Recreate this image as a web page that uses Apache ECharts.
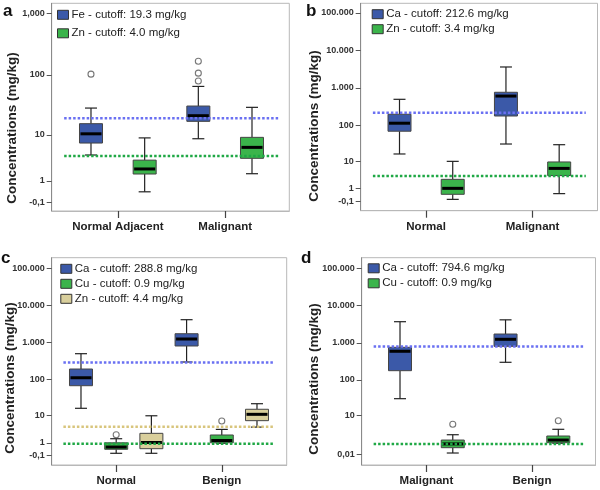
<!DOCTYPE html>
<html><head><meta charset="utf-8">
<script src="https://cdn.jsdelivr.net/npm/echarts@6/dist/echarts.min.js"></script>
<style>html,body{margin:0;padding:0;background:#fff}#c{width:600px;height:490px}</style>
</head><body><div id="c"></div>
<script>
// ---------- DATA (box stats: [min, Q1, median, Q3, max] in mg/kg) ----------
// Panel a
const aGroups = ['Normal Adjacent', 'Malignant'];
const aNames = ['Fe - cutoff: 19.3 mg/kg', 'Zn - cutoff: 4.0 mg/kg'];
const aCutoffs = [19.3, 4.0];
const aFe = [[4.2, 7.1, 10.4, 15.6, 28.6], [8.5, 17.1, 21.3, 30.9, 65]];
const aZn = [[0.33, 1.57, 2.1, 3.3, 8.8], [1.6, 3.6, 5.9, 9.0, 29.4]];
const aFeOut = [[103], [167, 107, 79.6]];
const aZnOut = [[], []];
const aTicks = [1000, 100, 10, 1, -0.1];
const aTickLabels = ['1,000', '100', '10', '1', '-0,1'];

// Panel b
const bGroups = ['Normal', 'Malignant'];
const bNames = ['Ca - cutoff: 212.6 mg/kg', 'Zn - cutoff: 3.4 mg/kg'];
const bCutoffs = [212.6, 3.4];
const bCa = [[16, 68, 112, 195, 491], [30.4, 175, 600, 758, 3600]];
const bZn = [[0.04, 0.42, 1.05, 2.57, 9.8], [0.48, 3.5, 6.0, 9.4, 29.1]];
const bCaOut = [[], []];
const bZnOut = [[], []];
const bTicks = [100000, 10000, 1000, 100, 10, 1, -0.1];
const bTickLabels = ['100.000', '10.000', '1.000', '100', '10', '1', '-0,1'];

// Panel c
const cGroups = ['Normal', 'Benign'];
const cNames = ['Ca - cutoff: 288.8 mg/kg', 'Cu - cutoff: 0.9 mg/kg', 'Zn - cutoff: 4.4 mg/kg'];
const cCutoffs = [288.8, 0.9, 4.4];
const cCa = [[16, 68, 112, 193, 501], [299, 808, 1246, 1730, 4130]];
const cCu = [[0.045, 0.34, 0.54, 1.0, 1.58], [0.95, 1.01, 1.31, 2.25, 3.6]];
const cZn = [[0.045, 0.39, 1.04, 2.6, 9.7], [4.3, 6.9, 10.7, 15, 21.6]];
const cCaOut = [[], []];
const cCuOut = [[2.31], [6.74]];
const cZnOut = [[], []];
const cTicks = [100000, 10000, 1000, 100, 10, 1, -0.1];
const cTickLabels = ['100.000', '10.000', '1.000', '100', '10', '1', '-0,1'];

// Panel d
const dGroups = ['Malignant', 'Benign'];
const dNames = ['Ca - cutoff: 794.6 mg/kg', 'Cu - cutoff: 0.9 mg/kg'];
const dCutoffs = [794.6, 0.9];
const dCa = [[30.5, 177, 590, 754, 3680], [298, 803, 1238, 1717, 4130]];
const dCu = [[0.094, 0.52, 0.92, 1.44, 2.39], [1.0, 1.07, 1.44, 2.13, 3.74]];
const dCaOut = [[], []];
const dCuOut = [[5.46], [7.07]];
const dTicks = [100000, 10000, 1000, 100, 10, 0.01];
const dTickLabels = ['100.000', '10.000', '1.000', '100', '10', '0,01'];

// ---------- STYLE ----------
const FILL = { Fe: '#3b59a8', Ca: '#3b59a8', Zn: '#3bb44b', Cu: '#3bb44b', ZnTan: '#d9cf9c' };
const CUT = { blue: '#6a70f2', green: '#1fa845', tan: '#d8c57c' };
const FONT = 'Liberation Sans, Arial, sans-serif';

// axis transform: log10(v + 1)
const tf = v => Math.log10(v + 1);

function boxRender(params, api) {
  const x = api.value(0);
  const p = [1, 2, 3, 4, 5].map(i => api.coord([x, api.value(i)]));
  const cx = p[0][0];
  const hw = 11.5, cw = 6;
  const fill = api.visual('color');
  const ln = { stroke: '#222', lineWidth: 1.2 };
  return {
    type: 'group', children: [
      { type: 'line', shape: { x1: cx, y1: p[4][1], x2: cx, y2: p[3][1] }, style: ln },
      { type: 'line', shape: { x1: cx, y1: p[0][1], x2: cx, y2: p[1][1] }, style: ln },
      { type: 'line', shape: { x1: cx - cw, y1: p[4][1], x2: cx + cw, y2: p[4][1] }, style: ln },
      { type: 'line', shape: { x1: cx - cw, y1: p[0][1], x2: cx + cw, y2: p[0][1] }, style: ln },
      { type: 'rect', shape: { x: cx - hw, y: p[3][1], width: 2 * hw, height: p[1][1] - p[3][1] },
        style: { fill: fill, stroke: '#444', lineWidth: 1 } },
      { type: 'line', shape: { x1: cx - hw + 1, y1: p[2][1], x2: cx + hw - 1, y2: p[2][1] },
        style: { stroke: '#000', lineWidth: 3 } }
    ]
  };
}

const option = {
  animation: false,
  backgroundColor: '#fff',
  grid: [], xAxis: [], yAxis: [], series: [], legend: [], graphic: []
};

function addPanel(cfg) {
  const gi = option.grid.length;
  option.grid.push(Object.assign({ show: true, borderColor: '#b8b8b8', borderWidth: 1, backgroundColor: 'transparent' }, cfg.grid));
  const n = cfg.elements.length;
  const labelPos = cfg.groups.map((g, i) => i * n + (n - 1) / 2);
  option.xAxis.push({
    gridIndex: gi, type: 'value', min: cfg.xRange[0], max: cfg.xRange[1],
    axisLine: { show: true, onZero: false, lineStyle: { color: '#b8b8b8', width: 1 } },
    axisTick: { show: true, customValues: labelPos, length: 7, lineStyle: { color: '#444', width: 1.2 } },
    splitLine: { show: false },
    axisLabel: {
      customValues: labelPos, margin: 10,
      formatter: v => cfg.groups[Math.round((v - (n - 1) / 2) / n)] || '',
      fontFamily: FONT, fontWeight: 'bold', fontSize: 11.5, color: '#222'
    }
  });
  const tv = cfg.ticks.map(tf);
  option.yAxis.push({
    gridIndex: gi, type: 'value', min: cfg.yRange[0], max: cfg.yRange[1],
    axisLine: { show: true, onZero: false, lineStyle: { color: '#8a8a8a', width: 1 } },
    axisTick: { show: true, customValues: tv, length: 5, lineStyle: { color: '#555', width: 1 } },
    splitLine: { show: false },
    axisLabel: {
      customValues: tv, margin: 7,
      formatter: v => {
        let bi = 0, bd = Infinity;
        tv.forEach((t, i) => { const d = Math.abs(t - v); if (d < bd) { bd = d; bi = i; } });
        return cfg.tickLabels[bi];
      },
      fontFamily: FONT, fontWeight: 'bold', fontSize: 9, color: '#333'
    }
  });
  const xEnd = cfg.groups.length * n - 0.5;
  cfg.elements.forEach((el, e) => {
    const boxData = el.stats.map((s, g) => [g * n + e].concat(s.map(tf)));
    option.series.push({
      type: 'custom', name: el.name, xAxisIndex: gi, yAxisIndex: gi,
      itemStyle: { color: el.color }, z: 2,
      dimensions: ['x', 'min', 'q1', 'med', 'q3', 'max'],
      encode: { x: 0, y: [1, 2, 3, 4, 5] },
      renderItem: boxRender, data: boxData
    });
    const outData = [];
    el.outliers.forEach((arr, g) => arr.forEach(v => outData.push([g * n + e, tf(v)])));
    if (outData.length) {
      option.series.push({
        type: 'scatter', name: el.name + ' outliers', xAxisIndex: gi, yAxisIndex: gi,
        symbol: 'circle', symbolSize: 6, z: 3,
        itemStyle: { color: '#fff', borderColor: '#555', borderWidth: 1.1 },
        data: outData
      });
    }
    option.series.push({
      type: 'line', name: el.name + ' cutoff', xAxisIndex: gi, yAxisIndex: gi,
      showSymbol: false, symbol: 'none', z: 4, silent: true,
      lineStyle: { color: el.cutColor, width: 2.5, type: [2.5, 2] },
      data: [[-0.5, tf(el.cutoff)], [xEnd, tf(el.cutoff)]]
    });
  });
  option.legend.push(Object.assign({
    orient: 'vertical', padding: 0, icon: 'rect', itemWidth: 11, itemHeight: 9,
    selectedMode: false,
    itemStyle: { borderColor: '#333', borderWidth: 1 },
    textStyle: { fontFamily: FONT, fontSize: 11.5, color: '#222', lineHeight: 13, padding: [0, 0, 0, -2] },
    data: cfg.elements.map(el => el.name)
  }, cfg.legend));
  option.graphic.push({
    type: 'text', x: cfg.letter[1], y: cfg.letter[2],
    style: { text: cfg.letter[0], font: 'bold 17px ' + FONT, fill: '#111', verticalAlign: 'middle', align: 'left' }
  });
  option.graphic.push({
    type: 'text', x: cfg.title[0], y: cfg.title[1], rotation: Math.PI / 2,
    style: { text: 'Concentrations (mg/kg)', font: 'bold 13.5px ' + FONT, fill: '#222', align: 'center', verticalAlign: 'middle' }
  });
}

addPanel({
  grid: { left: 51.7, top: 3.3, width: 237.6, height: 207.7 },
  xRange: [-0.732, 3.695], yRange: [-0.185, 3.157],
  groups: aGroups, ticks: aTicks, tickLabels: aTickLabels,
  elements: [
    { name: aNames[0], color: FILL.Fe, stats: aFe, outliers: aFeOut, cutoff: aCutoffs[0], cutColor: CUT.blue },
    { name: aNames[1], color: FILL.Zn, stats: aZn, outliers: aZnOut, cutoff: aCutoffs[1], cutColor: CUT.green }
  ],
  legend: { left: 57, top: 8.3, itemGap: 5.5 },
  letter: ['a', 3, 11], title: [12, 128]
});
addPanel({
  grid: { left: 360.7, top: 3.3, width: 236.8, height: 207.4 },
  xRange: [-0.729, 3.72], yRange: [-0.286, 5.259],
  groups: bGroups, ticks: bTicks, tickLabels: bTickLabels,
  elements: [
    { name: bNames[0], color: FILL.Ca, stats: bCa, outliers: bCaOut, cutoff: bCutoffs[0], cutColor: CUT.blue },
    { name: bNames[1], color: FILL.Zn, stats: bZn, outliers: bZnOut, cutoff: bCutoffs[1], cutColor: CUT.green }
  ],
  legend: { left: 371.7, top: 7.7, itemGap: 2 },
  letter: ['b', 306, 11], title: [314.3, 126]
});
addPanel({
  grid: { left: 51.7, top: 257.7, width: 235, height: 207.3 },
  xRange: [-0.832, 5.844], yRange: [-0.296, 5.285],
  groups: cGroups, ticks: cTicks, tickLabels: cTickLabels,
  elements: [
    { name: cNames[0], color: FILL.Ca, stats: cCa, outliers: cCaOut, cutoff: cCutoffs[0], cutColor: CUT.blue },
    { name: cNames[1], color: FILL.Cu, stats: cCu, outliers: cCuOut, cutoff: cCutoffs[1], cutColor: CUT.green },
    { name: cNames[2], color: FILL.ZnTan, stats: cZn, outliers: cZnOut, cutoff: cCutoffs[2], cutColor: CUT.tan }
  ],
  legend: { left: 60.3, top: 17.3 + 245, itemGap: 2 },
  letter: ['c', 1, 258], title: [10, 378]
});
addPanel({
  grid: { left: 361.7, top: 257.7, width: 233.8, height: 207.3 },
  xRange: [-0.726, 3.705], yRange: [-0.283, 5.285],
  groups: dGroups, ticks: dTicks, tickLabels: dTickLabels,
  elements: [
    { name: dNames[0], color: FILL.Ca, stats: dCa, outliers: dCaOut, cutoff: dCutoffs[0], cutColor: CUT.blue },
    { name: dNames[1], color: FILL.Cu, stats: dCu, outliers: dCuOut, cutoff: dCutoffs[1], cutColor: CUT.green }
  ],
  legend: { left: 367.7, top: 16.8 + 245, itemGap: 2 },
  letter: ['d', 301, 258], title: [314.3, 379]
});

const chart = echarts.init(document.getElementById('c'), null, { renderer: 'canvas' });
chart.setOption(option);
</script></body></html>
